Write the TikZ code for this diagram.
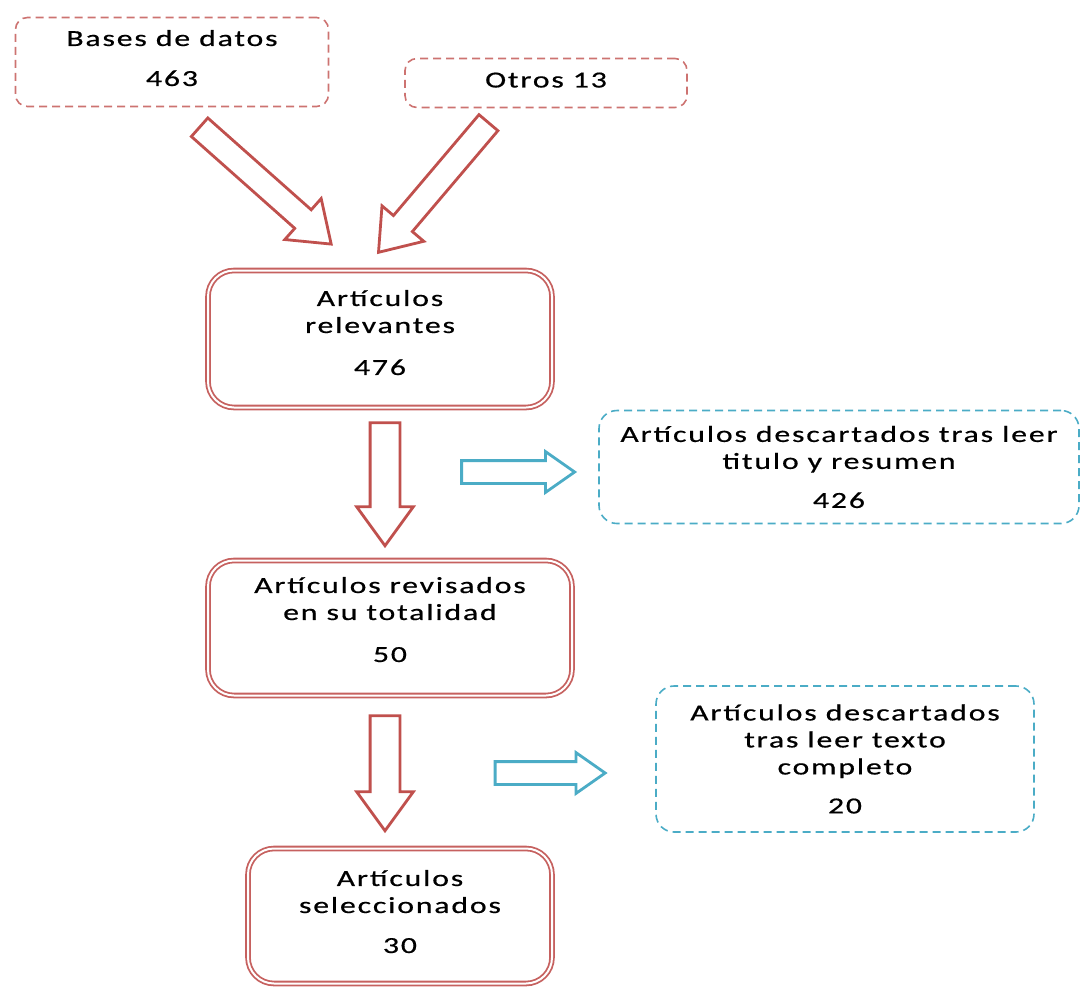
\documentclass[tikz,border=0pt]{standalone}
\usepackage{fontspec}
\setmainfont{Carlito}[FakeStretch=1.38, LetterSpace=8, FakeBold=0.6]
\usepackage{xcolor}
\usetikzlibrary{shapes.arrows}

\definecolor{boxred}{RGB}{192,80,77}
\definecolor{boxblue}{RGB}{75,172,198}

\tikzset{
  srcbox/.style = {shape=rectangle, rounded corners=12pt, draw=boxred!80,
    line width=1.6pt, dash pattern=on 8pt off 5pt, align=center},
  stagebox/.style = {shape=rectangle, rounded corners=26pt, draw=boxred!90,
    line width=1.8pt, double=white, double distance=2pt, align=center},
  dropbox/.style = {shape=rectangle, rounded corners=18pt, draw=boxblue,
    line width=1.6pt, dash pattern=on 8pt off 5pt, align=center},
  redarrow/.style = {single arrow, draw=boxred, line width=2.8pt, fill=white,
    inner xsep=0pt, single arrow tip angle=72, single arrow head indent=0pt},
  bluearrow/.style = {single arrow, draw=boxblue, line width=2.8pt, fill=white,
    inner xsep=0pt, inner ysep=10pt, single arrow head extend=9pt,
    single arrow tip angle=70, single arrow head indent=0pt}
}

\begin{document}
\begin{tikzpicture}[x=1pt, y=-1pt,
    every node/.append style = {font=\fontsize{23}{27}\selectfont}]
  \useasboundingbox (0,0) rectangle (1081,988);

  % sources
  \node[srcbox, minimum width=313pt, minimum height=89pt] (bases) at (172,62)
    {Bases de datos\\[13pt]463\\[-19pt]{}};
  \node[srcbox, minimum width=282pt, minimum height=49pt] (otros) at (546,83)
    {Otros 13\\[-21pt]{}};

  % stages
  \node[stagebox, minimum width=344pt, minimum height=137pt] (relev) at (380,339)
    {Artículos\\relevantes\\[15pt]476\\[-14pt]{}};
  \node[stagebox, minimum width=364pt, minimum height=135pt] (revis) at (390,628)
    {Artículos revisados\\en su totalidad\\[15pt]50\\[-10pt]{}};
  \node[stagebox, minimum width=304pt, minimum height=135pt] (selec) at (400,916)
    {Artículos\\seleccionados\\[13pt]30\\[-18pt]{}};

  % discarded
  \node[dropbox, minimum width=480pt, minimum height=113pt] (desc1) at (839,467)
    {Artículos descartados tras leer\\titulo y resumen\\[12pt]426};
  \node[dropbox, minimum width=378pt, minimum height=146pt] (desc2) at (845,759)
    {Artículos descartados\\tras leer texto\\completo\\[12pt]20};

  % block arrows
  \node[redarrow, inner ysep=11pt, single arrow head extend=15pt,
    minimum height=176pt, rotate=-41.6] (ar1) at (259,180) {};
  \node[redarrow, inner ysep=11pt, single arrow head extend=15pt,
    minimum height=170pt, rotate=-130.3] (ar2) at (439,181) {};
  \node[redarrow, inner ysep=13.5pt, single arrow head extend=13.5pt,
    minimum height=123pt, rotate=-90] (ar3) at (385,474) {};
  \node[redarrow, inner ysep=13.5pt, single arrow head extend=13.5pt,
    minimum height=115pt, rotate=-90] (ar4) at (385,763) {};
  \node[bluearrow, minimum height=113pt] (ab1) at (510,472) {};
  \node[bluearrow, minimum height=110pt] (ab2) at (542,773) {};
\end{tikzpicture}
\end{document}
